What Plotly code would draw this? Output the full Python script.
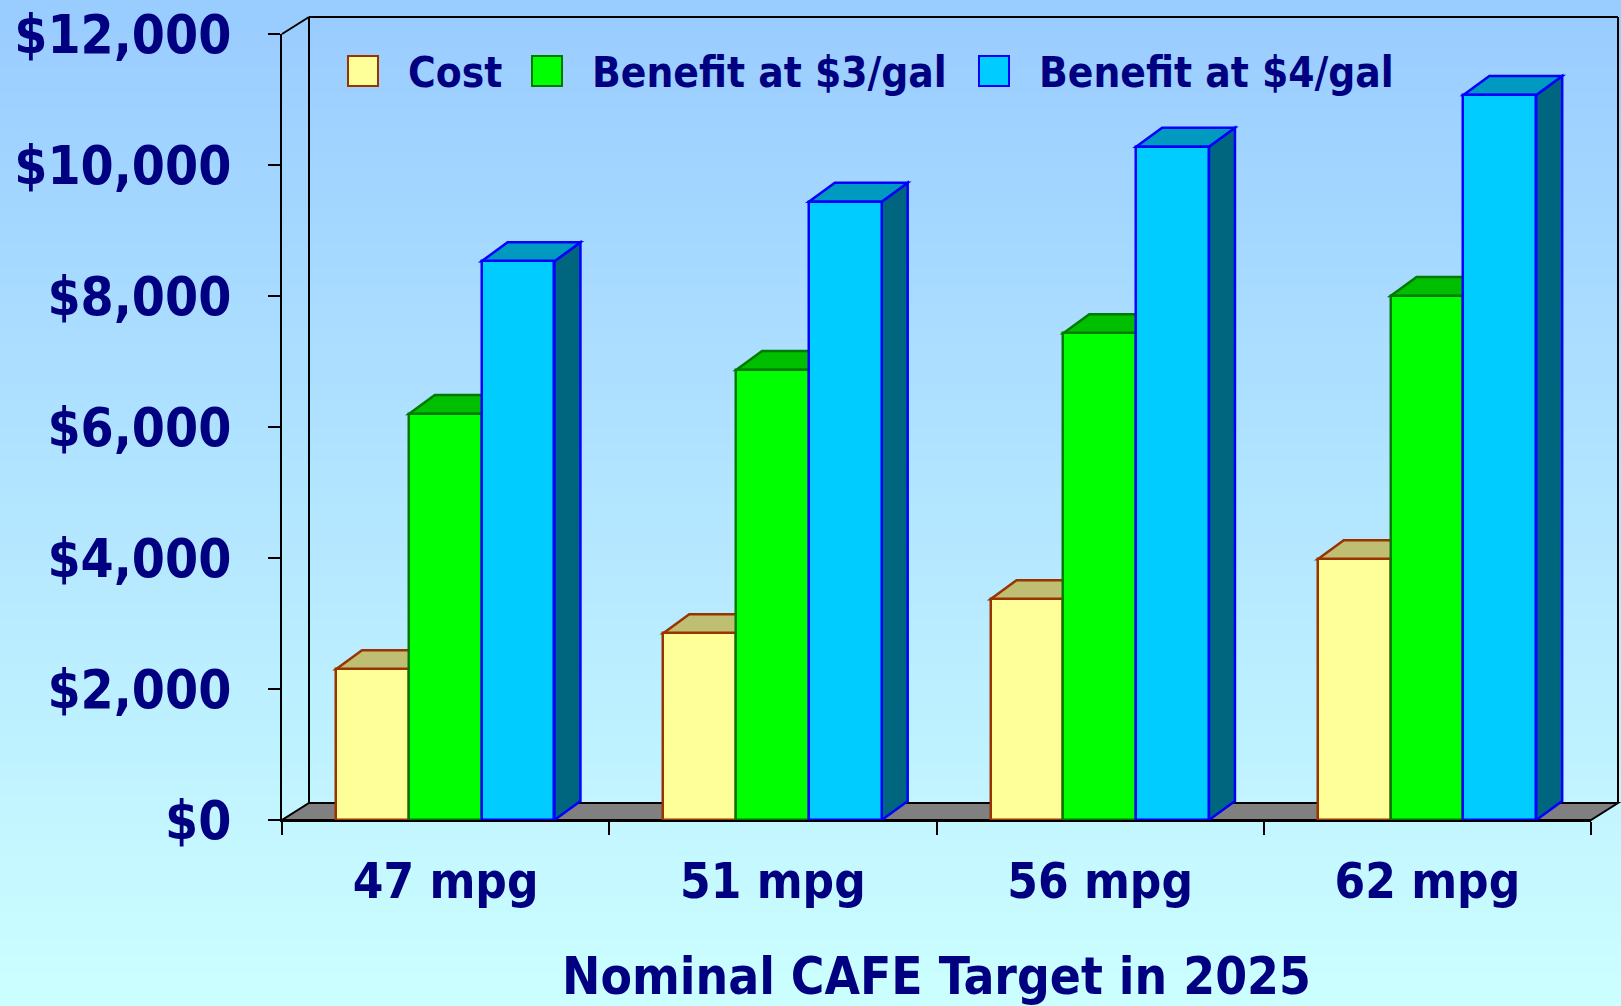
import plotly.graph_objects as go

# ---------------- data ----------------
categories = ["47 mpg", "51 mpg", "56 mpg", "62 mpg"]
cost = [2300, 2850, 3370, 3980]
benefit_3 = [6200, 6870, 7430, 8000]
benefit_4 = [8530, 9440, 10280, 11070]
series_names = ["Cost", "Benefit at $3/gal", "Benefit at $4/gal"]
y_ticks = [0, 2000, 4000, 6000, 8000, 10000, 12000]
y_tick_labels = ["$0", "$2,000", "$4,000", "$6,000", "$8,000", "$10,000", "$12,000"]
x_title = "Nominal CAFE Target in 2025"

# ---------------- styling ----------------
FONT = "Tahoma, 'DejaVu Sans Condensed', 'DejaVu Sans', sans-serif"
NAVY = "#000080"
front_colors = ["#FFFF99", "#00FF00", "#00CCFF"]
top_colors = ["#BFBF73", "#00BF00", "#0099BF"]
side_colors = ["#80804D", "#008000", "#00667F"]
line_colors = ["#993300", "#007A00", "#0000FF"]

W, H = 1621, 1006
PL, PR, PT, PB = 282, 1591, 34, 820
WP, HP = PR - PL, PB - PT
YMAX = 12000

def xp(px):
    return (px - PL) / WP

def yp(py):
    return (PB - py) / HP

bar_w = 0.2225
offsets = [-0.335, -0.1125, 0.11]
depth_x = 26 / (WP / 4)          # category units
depth_y = 19 * YMAX / HP         # data units
wall_dx, wall_dy = 27, 17        # pixels

series = [cost, benefit_3, benefit_4]

fig = go.Figure()
shapes = []

# background gradient (#99CCFF -> #CCFFFF)
N = 120
c0, c1 = (153, 204, 255), (204, 255, 255)
for i in range(N):
    t = (i + 0.5) / N
    col = tuple(round(a + (b - a) * t) for a, b in zip(c0, c1))
    shapes.append(dict(type="rect", xref="paper", yref="paper", layer="below",
                       x0=xp(-2), x1=xp(W + 2), y0=yp(i * H / N - (2 if i == 0 else 0)),
                       y1=yp((i + 1) * H / N + 1),
                       fillcolor="rgb(%d,%d,%d)" % col, line=dict(width=0)))

# floor and back wall
dxp, dyp = wall_dx / WP, wall_dy / HP
shapes.append(dict(type="path", xref="paper", yref="paper", layer="below",
                   path="M 0,0 L 1,0 L %f,%f L %f,%f Z" % (1 + dxp, dyp, dxp, dyp),
                   fillcolor="#808080", line=dict(color="black", width=2)))
for (xa, ya, xb, yb) in [(dxp, dyp, dxp, 1 + dyp), (dxp, 1 + dyp, 1 + dxp, 1 + dyp),
                         (1 + dxp, 1 + dyp, 1 + dxp, dyp), (0, 1, dxp, 1 + dyp)]:
    shapes.append(dict(type="line", xref="paper", yref="paper", layer="below",
                       x0=xa, y0=ya, x1=xb, y1=yb, line=dict(color="black", width=2)))

# bars (front faces) + 3D top/side faces
for s, vals in enumerate(series):
    fig.add_trace(go.Bar(
        x=categories, y=vals, width=bar_w, offset=offsets[s], name=series_names[s],
        marker=dict(color=front_colors[s], line=dict(color=line_colors[s], width=2.5)),
        showlegend=False, hoverinfo="y"))
    for i, v in enumerate(vals):
        L = i + offsets[s]
        R = L + bar_w
        top = "M %f,%f L %f,%f L %f,%f L %f,%f Z" % (L, v, L + depth_x, v + depth_y,
                                                       R + depth_x, v + depth_y, R, v)
        side = "M %f,%f L %f,%f L %f,%f L %f,%f Z" % (R, 0, R + depth_x, depth_y,
                                                        R + depth_x, v + depth_y, R, v)
        for p, fc in [(side, side_colors[s]), (top, top_colors[s])]:
            shapes.append(dict(type="path", xref="x", yref="y", layer="below", path=p,
                               fillcolor=fc, line=dict(color=line_colors[s], width=2.5)))

# custom legend
legend_sq = [348, 532, 979]
legend_tx = [406, 590, 1037]
annotations = []
for s in range(3):
    shapes.append(dict(type="rect", xref="paper", yref="paper", layer="above",
                       x0=xp(legend_sq[s]), x1=xp(legend_sq[s] + 30), y0=yp(86), y1=yp(56),
                       fillcolor=front_colors[s], line=dict(color=line_colors[s], width=2)))
    annotations.append(dict(xref="paper", yref="paper", x=xp(legend_tx[s]), y=yp(72),
                            xanchor="left", yanchor="middle", showarrow=False,
                            text=series_names[s],
                            font=dict(family=FONT, size=42, color=NAVY, weight="bold")))

fig.update_layout(
    width=W, height=H, autosize=False,
    margin=dict(l=PL, r=W - PR, t=PT, b=H - PB, pad=0, autoexpand=False),
    paper_bgcolor="#99CCFF", plot_bgcolor="rgba(0,0,0,0)",
    barmode="overlay", bargap=0,
    shapes=shapes, annotations=annotations,
    showlegend=False,
    font=dict(family=FONT, color=NAVY),
    xaxis=dict(type="category", range=[-0.5, 3.5], tickson="boundaries", automargin=False,
               ticks="outside", ticklen=13, tickwidth=2, tickcolor="black",
               showline=True, linecolor="black", linewidth=2, showgrid=False, zeroline=False,
               tickfont=dict(family=FONT, size=49, color=NAVY, weight="bold"),
               ticklabelstandoff=17,
               title=dict(text=x_title, standoff=52,
                          font=dict(family=FONT, size=51, color=NAVY, weight="bold"))),
    yaxis=dict(range=[0, YMAX], tickvals=y_ticks, ticktext=y_tick_labels, automargin=False,
               ticks="outside", ticklen=12, tickwidth=2, tickcolor="black",
               showline=True, linecolor="black", linewidth=2, showgrid=False, zeroline=False,
               tickfont=dict(family=FONT, size=53, color=NAVY, weight="bold"),
               ticklabelstandoff=26),
)

fig.write_html("out.html")
